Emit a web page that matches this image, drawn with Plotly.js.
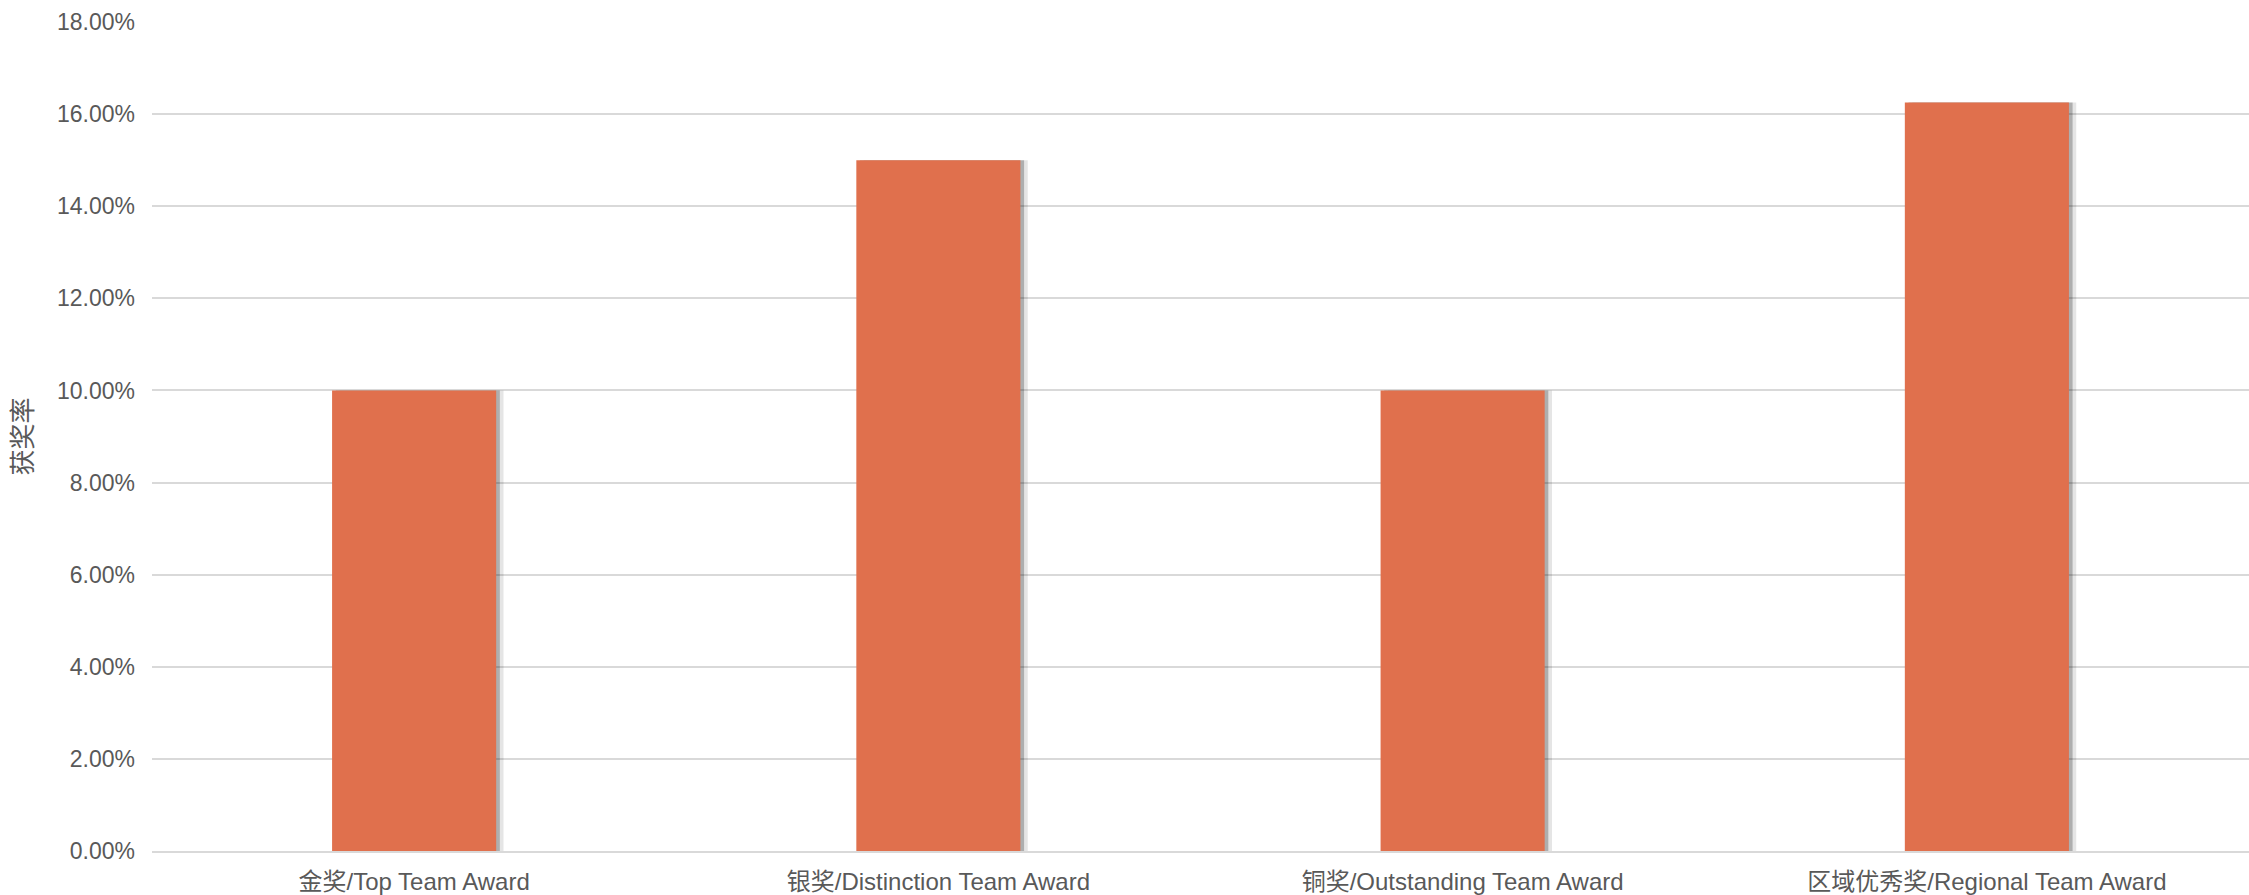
<!DOCTYPE html>
<html>
<head>
<meta charset="utf-8">
<script src="https://cdn.plot.ly/plotly-3.0.1.min.js"></script>
<style>html,body{margin:0;padding:0;background:#fff;}#chart{width:2249px;height:895px;}</style>
</head>
<body>
<div id="chart"></div>
<script>
const categories = ["金奖/Top Team Award", "银奖/Distinction Team Award", "铜奖/Outstanding Team Award", "区域优秀奖/Regional Team Award"];
const winRates = [0.10, 0.15, 0.10, 0.1625];
const yAxisTitle = "获奖率";
const yTickValues = [0, 0.02, 0.04, 0.06, 0.08, 0.10, 0.12, 0.14, 0.16, 0.18];

const FONT = "Liberation Sans, Arial, Noto Sans CJK SC, sans-serif";
const TXT = "#595959";
const barW = 0.313;

const shadowOuter = {
  type: "bar", x: categories, y: winRates,
  width: barW, offset: -barW / 2 + 0.014,
  marker: { color: "rgba(0,0,0,0.10)", line: { width: 0 } },
  hoverinfo: "skip", showlegend: false
};
const shadowInner = {
  type: "bar", x: categories, y: winRates,
  width: barW, offset: -barW / 2 + 0.007,
  marker: { color: "rgba(0,0,0,0.24)", line: { width: 0 } },
  hoverinfo: "skip", showlegend: false
};
const main = {
  type: "bar", x: categories, y: winRates,
  width: barW, offset: -barW / 2,
  marker: { color: "#E0704D", line: { width: 0 } },
  showlegend: false
};

const layout = {
  width: 2249, height: 895,
  margin: { l: 152, r: 0, t: 22, b: 44 },
  paper_bgcolor: "#ffffff", plot_bgcolor: "#ffffff",
  barmode: "overlay",
  font: { family: FONT, color: TXT, size: 24 },
  xaxis: {
    type: "category",
    showgrid: false, zeroline: false,
    showline: true, linecolor: "#d9d9d9", linewidth: 2,
    ticks: "", ticklabelstandoff: 8,
    tickfont: { family: FONT, color: TXT, size: 24 }
  },
  yaxis: {
    range: [0, 0.18],
    tickvals: yTickValues,
    tickformat: ".2%",
    showgrid: true, gridcolor: "#d9d9d9", gridwidth: 2,
    zeroline: false, showline: false,
    ticks: "", ticklabelstandoff: 16,
    tickfont: { family: FONT, color: TXT, size: 23 },
    title: { text: yAxisTitle, standoff: 16, font: { family: "Noto Sans CJK SC, " + FONT, color: TXT, size: 26 } }
  }
};

Plotly.newPlot("chart", [shadowOuter, shadowInner, main], layout, { displayModeBar: false, staticPlot: true });
</script>
</body>
</html>
